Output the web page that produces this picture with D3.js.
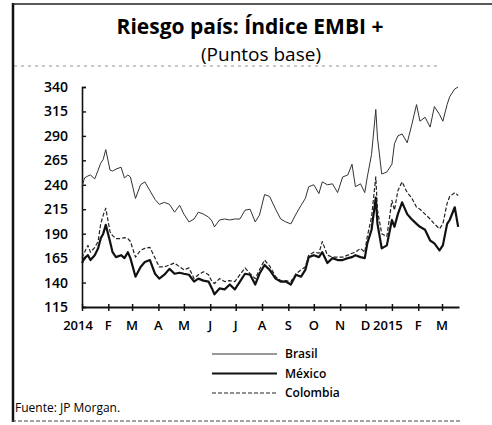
<!DOCTYPE html>
<html>
<head>
<meta charset="utf-8">
<script src="https://cdn.jsdelivr.net/npm/d3@7"></script>
<style>
  body { margin: 0; background: #fff; }
  svg { display: block; font-family: 'Open Sans', sans-serif; }
</style>
</head>
<body>
<svg id="chart" width="492" height="425"></svg>
<script>
// sample dates
const dates = [
  '2014-01-01', '2014-01-04', '2014-01-08', '2014-01-11', '2014-01-16', '2014-01-20', '2014-01-23', '2014-01-26',
  '2014-01-29', '2014-02-03', '2014-02-06', '2014-02-10', '2014-02-16', '2014-02-20', '2014-02-24', '2014-02-27',
  '2014-03-05', '2014-03-11', '2014-03-16', '2014-03-22', '2014-03-28', '2014-04-02', '2014-04-08', '2014-04-14',
  '2014-04-20', '2014-04-26', '2014-05-01', '2014-05-07', '2014-05-13', '2014-05-18', '2014-05-24', '2014-05-30',
  '2014-06-03', '2014-06-06', '2014-06-12', '2014-06-18', '2014-06-24', '2014-06-30', '2014-07-06', '2014-07-12',
  '2014-07-18', '2014-07-24', '2014-07-29', '2014-08-04', '2014-08-10', '2014-08-17', '2014-08-23', '2014-08-29',
  '2014-09-04', '2014-09-10', '2014-09-16', '2014-09-21', '2014-09-25', '2014-10-01', '2014-10-07', '2014-10-11',
  '2014-10-17', '2014-10-23', '2014-10-29', '2014-11-04', '2014-11-10', '2014-11-15', '2014-11-19', '2014-11-25',
  '2014-11-30', '2014-12-03', '2014-12-08', '2014-12-13', '2014-12-15', '2014-12-20', '2014-12-26', '2015-01-01',
  '2015-01-04', '2015-01-08', '2015-01-13', '2015-01-19', '2015-01-24', '2015-01-30', '2015-02-03', '2015-02-09',
  '2015-02-15', '2015-02-20', '2015-02-26', '2015-03-02', '2015-03-07', '2015-03-10', '2015-03-16', '2015-03-20'
];

const brasil = [
  238, 247, 249, 250, 246, 255, 262, 266,
  276, 255, 254, 256, 258, 247, 250, 248,
  226, 240, 243, 234, 225, 220, 222, 220,
  212, 219, 210, 202, 205, 212, 210, 207,
  203, 197, 204, 205, 204, 205, 205, 214,
  215, 202, 209, 230, 228, 215, 205, 202,
  200, 210, 219, 226, 238, 240, 231, 243,
  240, 241, 232, 248, 250, 261, 238, 241,
  232, 248, 271, 317, 288, 251, 253, 261,
  282, 290, 292, 283, 300, 322, 305, 309,
  299, 320, 312, 305, 322, 330, 338, 340
];

const mexico = [
  160, 165, 168, 163, 168, 175, 185, 190,
  199, 182, 171, 166, 168, 165, 171, 165,
  146, 156, 161, 163, 149, 144, 148, 154,
  149, 150, 149, 148, 141, 144, 142, 141,
  134, 128, 134, 133, 138, 133, 141, 149,
  148, 138, 149, 158, 153, 144, 141, 141,
  138, 148, 146, 153, 166, 168, 166, 171,
  160, 165, 163, 163, 165, 166, 168, 166,
  165, 180, 194, 227, 200, 175, 178, 204,
  197, 210, 222, 210, 205, 200, 197, 194,
  183, 180, 173, 178, 200, 204, 217, 197
];

const colombia = [
  165, 171, 178, 171, 176, 182, 200, 209,
  216, 192, 188, 185, 185, 186, 185, 182,
  166, 173, 175, 176, 165, 156, 156, 158,
  160, 156, 153, 155, 144, 148, 151, 148,
  141, 139, 144, 141, 142, 141, 148, 155,
  149, 144, 153, 163, 157, 146, 142, 142,
  141, 149, 153, 156, 168, 171, 170, 182,
  168, 166, 166, 166, 168, 170, 171, 175,
  171, 187, 207, 248, 214, 190, 187, 224,
  214, 234, 243, 232, 227, 217, 215, 210,
  205, 200, 195, 200, 221, 228, 232, 229
];

const yTicks = [115, 140, 165, 190, 215, 240, 265, 290, 315, 340];
const monthLabels = ['2014', 'F', 'M', 'A', 'M', 'J', 'J', 'A', 'S', 'O', 'N', 'D', '2015', 'F', 'M'];

const seriesNames = ['Brasil', 'México', 'Colombia'];

const parse = d3.timeParse('%Y-%m-%d');

const svg = d3.select('#chart');

const x = d3.scaleTime()
  .domain([parse('2014-01-01'), parse('2015-03-21')])
  .range([82, 459]);

const y = d3.scaleLinear()
  .domain([115, 340])
  .range([307, 87]);

// frame (scanned box: thick left edge, top rule, dotted rules)
svg.append('line').attr('x1', 13).attr('x2', 13).attr('y1', 3).attr('y2', 422)
  .attr('stroke', '#111').attr('stroke-width', 2.5);
svg.append('line').attr('x1', 12).attr('x2', 492).attr('y1', 4).attr('y2', 4)
  .attr('stroke', '#222').attr('stroke-width', 1.5);
svg.append('line').attr('x1', 14).attr('x2', 440).attr('y1', 66).attr('y2', 66)
  .attr('stroke', '#777').attr('stroke-width', 0.8).attr('stroke-dasharray', '3,4');
svg.append('line').attr('x1', 12).attr('x2', 460).attr('y1', 421).attr('y2', 421)
  .attr('stroke', '#444').attr('stroke-width', 1).attr('stroke-dasharray', '4,2');

// titles
svg.append('text')
  .attr('x', 250).attr('y', 34)
  .attr('text-anchor', 'middle')
  .style('font-size', '21px').style('font-weight', 700)
  .text('Riesgo país: Índice EMBI +');

svg.append('text')
  .attr('x', 261).attr('y', 61)
  .attr('text-anchor', 'middle')
  .style('font-size', '19px')
  .text('(Puntos base)');

// y axis
const yAxis = svg.append('g')
  .attr('transform', 'translate(82,0)')
  .call(d3.axisRight(y).tickValues(yTicks).tickSize(4).tickFormat(''));
yAxis.select('.domain').attr('stroke', '#111').attr('stroke-width', 1.6);
yAxis.selectAll('.tick line').attr('stroke', '#111').attr('stroke-width', 1.4);

svg.append('g').selectAll('text')
  .data(yTicks)
  .enter()
  .append('text')
  .attr('x', 68)
  .attr('y', d => y(d) + 5)
  .attr('text-anchor', 'end')
  .style('font-size', '14px').style('font-weight', 600)
  .text(d => d);

// x axis, monthly ticks
const months = d3.timeMonth.range(parse('2014-01-01'), parse('2015-03-02'));
const xAxis = svg.append('g')
  .attr('transform', 'translate(0,307)')
  .call(d3.axisBottom(x).tickValues(months).tickSize(3).tickSizeOuter(0).tickFormat(''));
xAxis.select('.domain').attr('stroke', '#111').attr('stroke-width', 2);
xAxis.selectAll('.tick line').attr('y1', -3).attr('y2', 4)
  .attr('stroke', '#111').attr('stroke-width', 1.5);

svg.append('g').selectAll('text')
  .data(months)
  .enter()
  .append('text')
  .attr('x', (d, i) => x(d) - (monthLabels[i].length > 1 ? 4 : 0))
  .attr('y', 330)
  .attr('text-anchor', 'middle')
  .style('font-size', '13px').style('font-weight', 600)
  .text((d, i) => monthLabels[i]);

// lines
const line = d3.line()
  .x((d, i) => x(parse(dates[i])))
  .y(d => y(d));

const styles = [
  { data: brasil, width: 1, dash: null, color: '#333' },
  { data: mexico, width: 2.2, dash: null, color: '#111' },
  { data: colombia, width: 1.2, dash: '4,2', color: '#222' }
];

svg.append('g').selectAll('path')
  .data(styles)
  .enter()
  .append('path')
  .attr('fill', 'none')
  .attr('stroke', d => d.color)
  .attr('stroke-width', d => d.width)
  .attr('stroke-dasharray', d => d.dash)
  .attr('stroke-linejoin', 'round')
  .attr('d', d => line(d.data));

// legend
const legend = svg.append('g')
  .selectAll('g')
  .data(styles)
  .enter()
  .append('g')
  .attr('transform', (d, i) => `translate(212,${354 + i * 19.5})`);

legend.append('line')
  .attr('x1', 0).attr('x2', 65)
  .attr('stroke', d => d.color)
  .attr('stroke-width', d => d.width)
  .attr('stroke-dasharray', d => d.dash);

legend.append('text')
  .attr('x', 73).attr('y', 4)
  .style('font-size', '12px').style('font-weight', 600)
  .text((d, i) => seriesNames[i]);

svg.append('text')
  .attr('x', 15).attr('y', 412)
  .style('font-size', '12px')
  .text('Fuente: JP Morgan.');
</script>
</body>
</html>
